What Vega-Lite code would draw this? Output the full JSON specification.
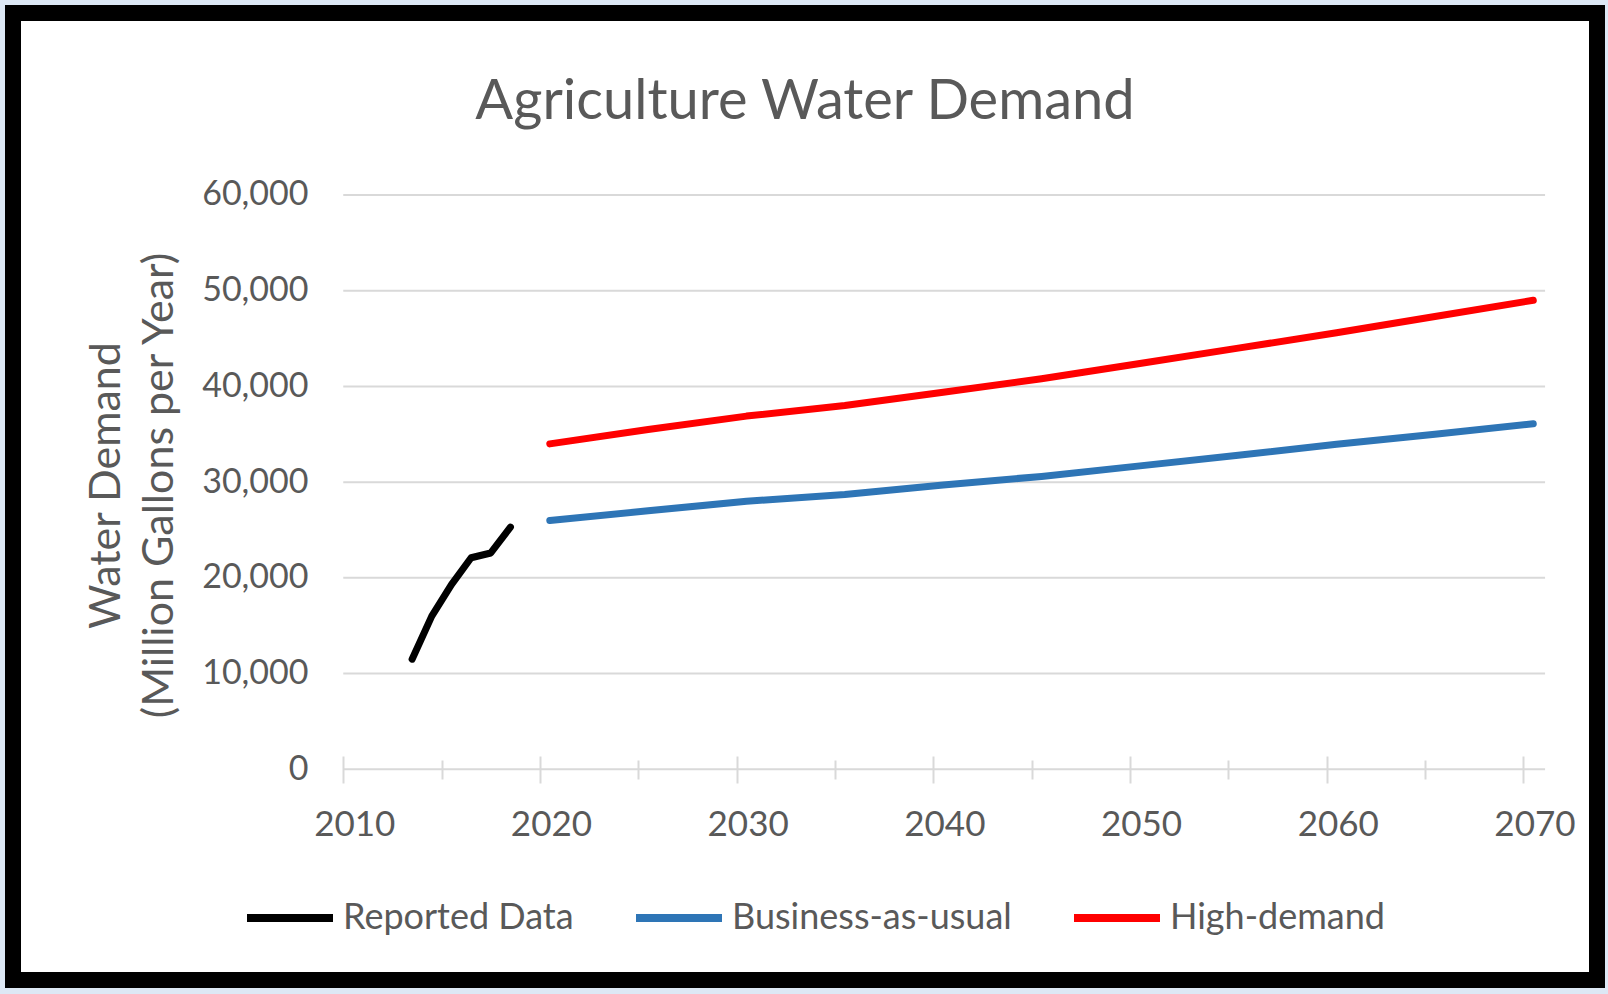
{
  "$schema": "https://vega.github.io/schema/vega-lite/v6.json",
  "autosize": "none",
  "width": 1584,
  "height": 967,
  "padding": {"left": 13, "top": 13, "right": 11, "bottom": 14},
  "background": "#dde8f5",
  "config": {
    "view": {"stroke": "#000000", "strokeWidth": 16, "fill": "#ffffff"},
    "font": "Lato"
  },
  "title": {
    "text": "Agriculture Water Demand",
    "fontSize": 56,
    "font": "Lato",
    "fontWeight": "normal",
    "color": "#595959",
    "frame": "group",
    "anchor": "middle",
    "baseline": "alphabetic",
    "offset": -162
  },
  "datasets": {
    "grid": [
      {"g": 0}, {"g": 10000}, {"g": 20000}, {"g": 30000}, {"g": 40000}, {"g": 50000}, {"g": 60000}
    ],
    "demand": [
      {"year": 2013.5, "value": 11500, "series": "Reported Data"},
      {"year": 2014.5, "value": 16000, "series": "Reported Data"},
      {"year": 2015.5, "value": 19300, "series": "Reported Data"},
      {"year": 2016.5, "value": 22100, "series": "Reported Data"},
      {"year": 2017.5, "value": 22600, "series": "Reported Data"},
      {"year": 2018.5, "value": 25300, "series": "Reported Data"},
      {"year": 2020.5, "value": 26000, "series": "Business-as-usual"},
      {"year": 2025.5, "value": 27000, "series": "Business-as-usual"},
      {"year": 2030.5, "value": 28000, "series": "Business-as-usual"},
      {"year": 2035.5, "value": 28700, "series": "Business-as-usual"},
      {"year": 2040.5, "value": 29700, "series": "Business-as-usual"},
      {"year": 2045.5, "value": 30600, "series": "Business-as-usual"},
      {"year": 2050.5, "value": 31700, "series": "Business-as-usual"},
      {"year": 2055.5, "value": 32800, "series": "Business-as-usual"},
      {"year": 2060.5, "value": 33950, "series": "Business-as-usual"},
      {"year": 2065.5, "value": 35000, "series": "Business-as-usual"},
      {"year": 2070.5, "value": 36100, "series": "Business-as-usual"},
      {"year": 2020.5, "value": 34000, "series": "High-demand"},
      {"year": 2025.5, "value": 35500, "series": "High-demand"},
      {"year": 2030.5, "value": 36900, "series": "High-demand"},
      {"year": 2035.5, "value": 38000, "series": "High-demand"},
      {"year": 2040.5, "value": 39400, "series": "High-demand"},
      {"year": 2045.5, "value": 40800, "series": "High-demand"},
      {"year": 2050.5, "value": 42400, "series": "High-demand"},
      {"year": 2055.5, "value": 44000, "series": "High-demand"},
      {"year": 2060.5, "value": 45600, "series": "High-demand"},
      {"year": 2065.5, "value": 47300, "series": "High-demand"},
      {"year": 2070.5, "value": 49000, "series": "High-demand"}
    ]
  },
  "resolve": {"axis": {"x": "independent", "y": "independent"}},
  "layer": [
    {
      "data": {"name": "grid"},
      "mark": {"type": "rule", "color": "#d9d9d9", "strokeWidth": 2},
      "encoding": {
        "y": {
          "field": "g",
          "type": "quantitative",
          "scale": {"domain": [-22012, 79012], "nice": false, "zero": false},
          "axis": null
        },
        "x": {
          "datum": 2010,
          "type": "quantitative",
          "scale": {"domain": [1993.21, 2073.74], "nice": false, "zero": false},
          "axis": {
            "orient": "bottom",
            "values": [2015, 2025, 2035, 2045, 2055, 2065],
            "labels": false,
            "domain": false,
            "grid": false,
            "ticks": true,
            "tickSize": 19,
            "tickWidth": 2,
            "tickColor": "#d9d9d9",
            "offset": -220,
            "title": null
          }
        },
        "x2": {"datum": 2071.1}
      }
    },
    {
      "data": {"name": "demand"},
      "mark": {"type": "line", "strokeWidth": 7, "strokeCap": "round", "strokeJoin": "round"},
      "encoding": {
        "x": {
          "field": "year",
          "type": "quantitative",
          "scale": {"domain": [1993.21, 2073.74], "nice": false, "zero": false},
          "axis": {
            "orient": "bottom",
            "values": [2010, 2020, 2030, 2040, 2050, 2060, 2070],
            "format": "d",
            "labelFlush": false,
            "domain": false,
            "grid": false,
            "ticks": true,
            "tickSize": 27,
            "tickWidth": 2,
            "tickColor": "#d9d9d9",
            "offset": -224,
            "labelPadding": 24,
            "labelOffset": 11,
            "labelFont": "Lato",
            "labelFontSize": 35,
            "labelColor": "#595959",
            "title": null
          }
        },
        "y": {
          "field": "value",
          "type": "quantitative",
          "scale": {"domain": [-22012, 79012], "nice": false, "zero": false},
          "axis": {
            "orient": "left",
            "values": [0, 10000, 20000, 30000, 40000, 50000, 60000],
            "format": ",d",
            "domain": false,
            "grid": false,
            "ticks": false,
            "tickSize": 0,
            "labelPadding": 0,
            "offset": -295,
            "labelFont": "Lato",
            "labelFontSize": 34,
            "labelColor": "#595959",
            "title": ["Water Demand", "(Million Gallons per Year)"],
            "titleFont": "Lato",
            "titleFontSize": 43,
            "titleFontWeight": "normal",
            "titleColor": "#595959",
            "titleLineHeight": 53,
            "titlePadding": 20,
            "titleY": 472
          }
        },
        "color": {
          "field": "series",
          "type": "nominal",
          "sort": ["Reported Data", "Business-as-usual", "High-demand"],
          "scale": {
            "domain": ["Reported Data", "Business-as-usual", "High-demand"],
            "range": ["#000000", "#2e75b6", "#ff0000"]
          },
          "legend": {
            "title": null,
            "orient": "none",
            "direction": "horizontal",
            "columns": 3,
            "legendX": 230,
            "legendY": 858,
            "padding": 0,
            "symbolType": "stroke",
            "symbolSize": 7396,
            "symbolStrokeWidth": 8,
            "labelFont": "Lato",
            "labelFontSize": 36,
            "labelLimit": 600,
            "labelColor": "#595959",
            "labelOffset": 6,
            "columnPadding": 46
          }
        }
      }
    }
  ]
}
